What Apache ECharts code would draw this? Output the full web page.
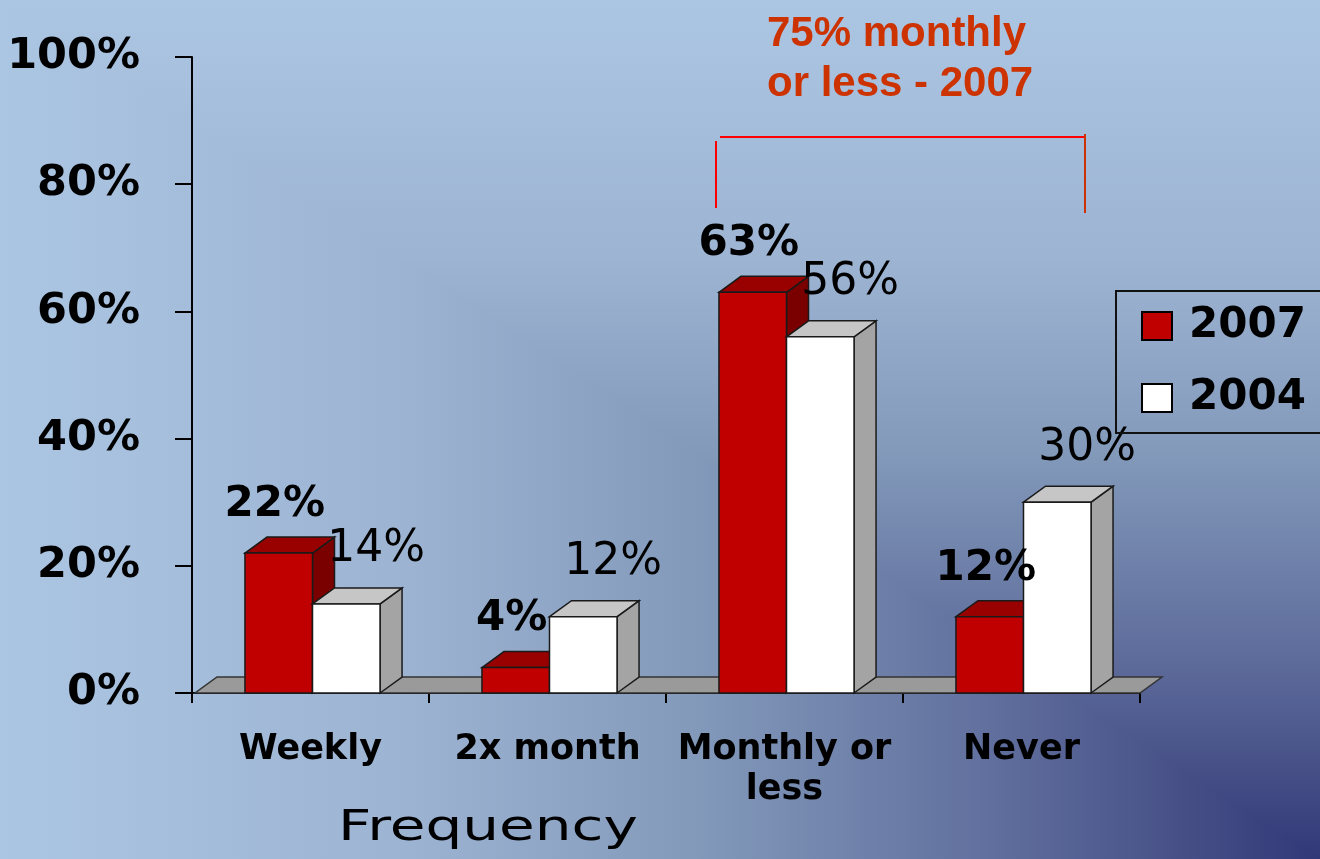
<!DOCTYPE html>
<html>
<head>
<meta charset="utf-8">
<script src="https://cdn.jsdelivr.net/npm/echarts@6/dist/echarts.min.js"></script>
<style>
html,body{margin:0;padding:0;background:#a9c4e1;}
#chart{width:1320px;height:859px;}
</style>
</head>
<body>
<div id="chart"></div>
<script>
var categories = ['Weekly', '2x month', 'Monthly or\nless', 'Never'];
var values2007 = [22, 4, 63, 12];
var values2004 = [14, 12, 56, 30];
var yTicks = [0, 20, 40, 60, 80, 100];
var seriesNames = ['2007', '2004'];
var annotation = '75% monthly\nor less - 2007';
var axisTitle = 'Frequency';

var DX = 22, DY = 16;
var bgStops = [
  {offset: 0, color: '#abc6e3'},
  {offset: 0.3, color: '#9db4d3'},
  {offset: 0.53, color: '#8299ba'},
  {offset: 0.76, color: '#5f6d9c'},
  {offset: 0.9, color: '#454f86'},
  {offset: 1, color: '#313878'}
];

function barRenderer(idx, colors, labelFont, ldx, ldy) {
  return function (params, api) {
    var cat = api.value(0), v = api.value(1);
    var base = api.coord([cat, 0]);
    var tp = api.coord([cat, v]);
    var bw = api.size([1, 0])[0];
    var w = bw * 0.285;
    var x0 = base[0] + 2 + (idx === 0 ? -w : 0);
    var x1 = x0 + w;
    var yb = base[1], yt = tp[1];
    var stroke = '#1a1a1a';
    return {
      type: 'group',
      children: [
        {type: 'polygon', shape: {points: [[x1, yb], [x1 + DX, yb - DY], [x1 + DX, yt - DY], [x1, yt]]},
         style: {fill: colors.side, stroke: stroke, lineWidth: 1.5}},
        {type: 'polygon', shape: {points: [[x0, yt], [x0 + DX, yt - DY], [x1 + DX, yt - DY], [x1, yt]]},
         style: {fill: colors.top, stroke: stroke, lineWidth: 1.5}},
        {type: 'rect', shape: {x: x0, y: yt, width: w, height: yb - yt},
         style: {fill: colors.front, stroke: stroke, lineWidth: 1.5}},
        {type: 'text', z2: 100,
         style: {text: v + '%', x: (x0 + x1) / 2 + ldx, y: yt - ldy, align: 'center', verticalAlign: 'middle',
                 font: labelFont, fill: '#000'}}
      ]
    };
  };
}

function floorRenderer(params, api) {
  var cs = params.coordSys;
  var yb = cs.y + cs.height;
  var xl = cs.x + 3, xr = cs.x + cs.width;
  return {
    type: 'polygon',
    shape: {points: [[xl, yb], [xr, yb], [xr + DX, yb - DY], [xl + DX, yb - DY]]},
    style: {fill: '#9a9a9a', stroke: '#333', lineWidth: 1.5}
  };
}

var chart = echarts.init(document.getElementById('chart'), null, {renderer: 'canvas'});
chart.setOption({
  animation: false,
  backgroundColor: 'transparent',
  graphic: [
    {type: 'rect', z: -100, silent: true, shape: {x: 0, y: 0, width: 1320, height: 859},
     style: {fill: {type: 'linear', x: 0, y: 0, x2: 1, y2: 0, colorStops: bgStops}}},
    {type: 'polygon', z: -99, silent: true, shape: {points: [[0, 0], [1320, 0], [1320, 859]]},
     style: {fill: {type: 'linear', x: 0, y: 0, x2: 0, y2: 1, colorStops: bgStops}}},
    {type: 'text', z: 10, x: 767, y: 9,
     style: {text: annotation, font: 'bold 42px "Liberation Sans", Arial, sans-serif', fill: '#cc3300', lineHeight: 50}},
    {type: 'line', z: 10, shape: {x1: 720, y1: 137, x2: 1086, y2: 137}, style: {stroke: '#ff0000', lineWidth: 2}},
    {type: 'line', z: 10, shape: {x1: 716, y1: 141, x2: 716, y2: 208}, style: {stroke: '#ff0000', lineWidth: 2}},
    {type: 'line', z: 10, shape: {x1: 1085, y1: 134, x2: 1085, y2: 213}, style: {stroke: '#cc3300', lineWidth: 2}},
    {type: 'text', z: 10, x: 338, y: 829, scaleX: 1.35,
     style: {text: axisTitle, font: '43px "DejaVu Sans", sans-serif', fill: '#000', verticalAlign: 'middle'}}
  ],
  grid: {left: 192, right: 180, top: 57, bottom: 166, containLabel: false},
  legend: {
    orient: 'vertical', left: 1116, top: 291,
    padding: [13, 30, 13, 25], itemGap: 28,
    borderColor: '#111', borderWidth: 2,
    icon: 'rect', itemWidth: 30, itemHeight: 28,
    itemStyle: {borderColor: '#000', borderWidth: 2},
    data: seriesNames,
    textStyle: {fontFamily: '"DejaVu Sans", sans-serif', fontWeight: 'bold', fontSize: 42, color: '#000',
                lineHeight: 44, padding: [0, 0, 0, 12]}
  },
  xAxis: {
    type: 'category', data: categories,
    axisLine: {lineStyle: {color: '#000', width: 2}},
    axisTick: {show: true, length: 10, lineStyle: {color: '#000', width: 2}},
    axisLabel: {interval: 0, margin: 37, color: '#000', fontFamily: '"DejaVu Sans", sans-serif',
                fontWeight: 'bold', fontSize: 35, lineHeight: 40}
  },
  yAxis: {
    type: 'value', min: yTicks[0], max: yTicks[yTicks.length - 1], interval: yTicks[1] - yTicks[0],
    splitLine: {show: false},
    axisLine: {show: true, lineStyle: {color: '#000', width: 2}},
    axisTick: {show: true, length: 17, lineStyle: {color: '#000', width: 2}},
    axisLabel: {formatter: '{value}%', margin: 52, color: '#000', fontFamily: '"DejaVu Sans", sans-serif',
                fontWeight: 'bold', fontSize: 43}
  },
  series: [
    {type: 'custom', name: 'floor', renderItem: floorRenderer, data: [[0, 0]], silent: true, z: 1},
    {type: 'custom', name: seriesNames[0], z: 2,
     itemStyle: {color: '#c00000'},
     renderItem: barRenderer(0, {front: '#c00000', top: '#990000', side: '#7a0000'},
                             'bold 42px "DejaVu Sans", sans-serif', -4, 48),
     data: values2007.map(function (v, i) { return [i, v]; })},
    {type: 'custom', name: seriesNames[1], z: 2,
     itemStyle: {color: '#ffffff'},
     renderItem: barRenderer(1, {front: '#ffffff', top: '#c6c6c6', side: '#a4a4a4'},
                             '44px "DejaVu Sans", sans-serif', 30, 54),
     data: values2004.map(function (v, i) { return [i, v]; })}
  ]
});
</script>
</body>
</html>
